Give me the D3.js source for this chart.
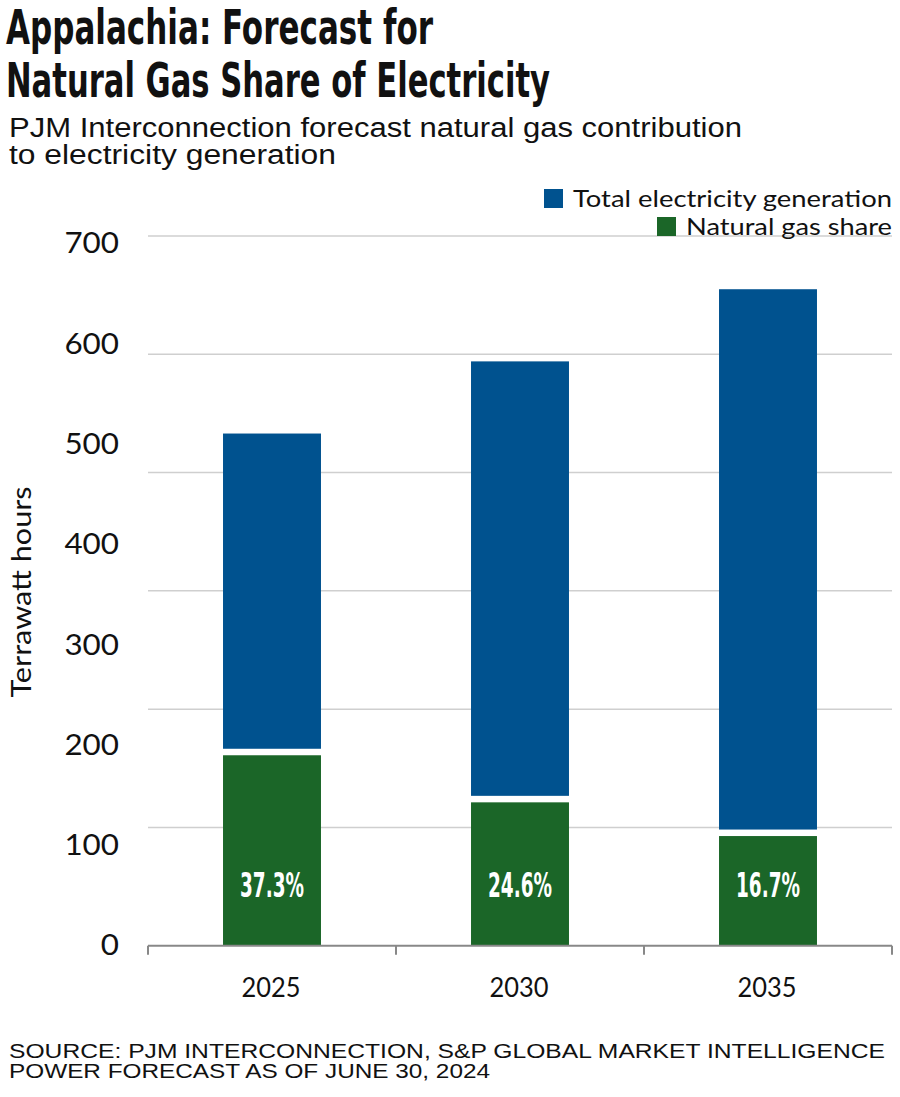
<!DOCTYPE html>
<html>
<head>
<meta charset="utf-8">
<script src="https://cdn.jsdelivr.net/npm/d3@7"></script>
<style>
  html, body { margin: 0; padding: 0; background: #fff; }
  svg { display: block; }
</style>
</head>
<body>
<svg id="chart" width="900" height="1097"></svg>
<script>
// ---- data ----
const years = ["2025", "2030", "2035"];
const totalGeneration = [433, 494, 555];     // TWh
const gasShareTWh = [161, 121.2, 92.7];      // TWh
const shareLabels = ["37.3%", "24.6%", "16.7%"];
const gridValues = [100, 200, 300, 400, 500, 600];
const tickLabels = [0, 100, 200, 300, 400, 500, 600, 700];
const legendItems = ["Total electricity generation", "Natural gas share"];

const BLUE = "#00528f", GREEN = "#1b6628";

const svg = d3.select("#chart");

// title
const title = svg.append("g").attr("font-family", "'DejaVu Sans Condensed', 'Liberation Sans Narrow', sans-serif")
  .attr("font-weight", "bold").attr("fill", "#111").attr("font-size", 48);
title.append("text").attr("x", 6).attr("y", 44).attr("textLength", 427).attr("lengthAdjust", "spacingAndGlyphs")
  .text("Appalachia: Forecast for");
title.append("text").attr("x", 6).attr("y", 97).attr("textLength", 544).attr("lengthAdjust", "spacingAndGlyphs")
  .text("Natural Gas Share of Electricity");

// subtitle
const sub = svg.append("g").attr("font-family", "'Liberation Sans', Arial, sans-serif").attr("fill", "#111").attr("font-size", 27);
sub.append("text").attr("x", 9).attr("y", 137).attr("textLength", 733).attr("lengthAdjust", "spacingAndGlyphs")
  .text("PJM Interconnection forecast natural gas contribution");
sub.append("text").attr("x", 9).attr("y", 164).attr("textLength", 327).attr("lengthAdjust", "spacingAndGlyphs")
  .text("to electricity generation");

// scales
const x = d3.scaleBand().domain(years).range([148, 892]).paddingInner(0.605).paddingOuter(0.3025);
const y = d3.scaleLinear().domain([0, 600]).range([945.7, 236]);
// tick labels are placed on their own (uneven) spacing, as in the source graphic
const yLabel = d3.scaleLinear().domain([0, 700]).range([946, 244]);

// gridlines
svg.append("g").selectAll("line").data(gridValues).join("line")
  .attr("x1", 148).attr("x2", 892)
  .attr("y1", d => y(d)).attr("y2", d => y(d))
  .attr("stroke", "#cfcfcf").attr("stroke-width", 1.5);

// y tick labels
const yAxis = svg.append("g").attr("transform", "translate(119,0)")
  .call(d3.axisLeft(yLabel).tickValues(tickLabels).tickSize(0).tickPadding(0));
yAxis.select(".domain").remove();
yAxis.selectAll("text")
  .attr("font-family", "Lato, sans-serif").attr("font-size", 28).attr("fill", "#111")
  .attr("textLength", d => String(d).length * 18.2).attr("lengthAdjust", "spacingAndGlyphs");

// y title
svg.append("text").attr("transform", "translate(31,592) rotate(-90)")
  .attr("text-anchor", "middle").attr("font-family", "Lato, sans-serif").attr("font-size", 26).attr("fill", "#111")
  .attr("textLength", 211).attr("lengthAdjust", "spacingAndGlyphs")
  .text("Terrawatt hours");

// bars
const bars = svg.append("g");
bars.selectAll("rect.total").data(years).join("rect").attr("class", "total")
  .attr("x", d => x(d)).attr("width", x.bandwidth())
  .attr("y", (d, i) => y(totalGeneration[i]))
  .attr("height", (d, i) => y(gasShareTWh[i]) - 6.5 - y(totalGeneration[i]))
  .attr("fill", BLUE);
bars.selectAll("rect.gas").data(years).join("rect").attr("class", "gas")
  .attr("x", d => x(d)).attr("width", x.bandwidth())
  .attr("y", (d, i) => y(gasShareTWh[i]))
  .attr("height", (d, i) => y(0) - y(gasShareTWh[i]))
  .attr("fill", GREEN);

// share labels
bars.selectAll("text").data(years).join("text")
  .attr("x", d => x(d) + x.bandwidth() / 2).attr("y", 897)
  .attr("text-anchor", "middle")
  .attr("font-family", "'DejaVu Sans Condensed', 'Liberation Sans Narrow', sans-serif")
  .attr("font-weight", "bold").attr("font-size", 33).attr("fill", "#fff")
  .attr("textLength", 64).attr("lengthAdjust", "spacingAndGlyphs")
  .text((d, i) => shareLabels[i]);

// x axis
const xAxisG = svg.append("g");
xAxisG.append("line").attr("x1", 148).attr("x2", 892).attr("y1", y(0)).attr("y2", y(0))
  .attr("stroke", "#888").attr("stroke-width", 2);
const bounds = [x.range()[0]].concat(years.map(d => x(d) - x.step() * x.paddingInner() / 2 + x.step()));
xAxisG.selectAll("line.tick").data(bounds).join("line").attr("class", "tick")
  .attr("x1", d => d).attr("x2", d => d).attr("y1", y(0)).attr("y2", y(0) + 9)
  .attr("stroke", "#888").attr("stroke-width", 2);
xAxisG.selectAll("text").data(years).join("text")
  .attr("x", d => x(d) + x.bandwidth() / 2 - 1).attr("y", 997)
  .attr("text-anchor", "middle").attr("font-family", "Lato, sans-serif").attr("font-size", 27).attr("fill", "#111")
  .attr("textLength", 59).attr("lengthAdjust", "spacingAndGlyphs")
  .text(d => d);

// legend
const legend = svg.append("g");
const legendColors = [BLUE, GREEN];
const legendTextLen = [319, 206];
const legendBase = [207, 235];
legend.selectAll("rect").data(legendItems).join("rect")
  .attr("x", (d, i) => 892 - legendTextLen[i] - 29).attr("y", (d, i) => legendBase[i] - 18)
  .attr("width", 19).attr("height", 19).attr("fill", (d, i) => legendColors[i]);
legend.selectAll("text").data(legendItems).join("text")
  .attr("x", 892).attr("y", (d, i) => legendBase[i]).attr("text-anchor", "end")
  .attr("font-family", "Lato, sans-serif").attr("font-size", 24).attr("fill", "#111")
  .attr("textLength", (d, i) => legendTextLen[i]).attr("lengthAdjust", "spacingAndGlyphs")
  .text(d => d);

// source
const src = svg.append("g").attr("font-family", "'Liberation Sans Narrow', 'Liberation Sans', sans-serif").attr("fill", "#111").attr("font-size", 19.5);
src.append("text").attr("x", 9).attr("y", 1058).attr("textLength", 876).attr("lengthAdjust", "spacingAndGlyphs")
  .text("SOURCE: PJM INTERCONNECTION, S&P GLOBAL MARKET INTELLIGENCE");
src.append("text").attr("x", 9).attr("y", 1078).attr("textLength", 481).attr("lengthAdjust", "spacingAndGlyphs")
  .text("POWER FORECAST AS OF JUNE 30, 2024");
</script>
</body>
</html>
